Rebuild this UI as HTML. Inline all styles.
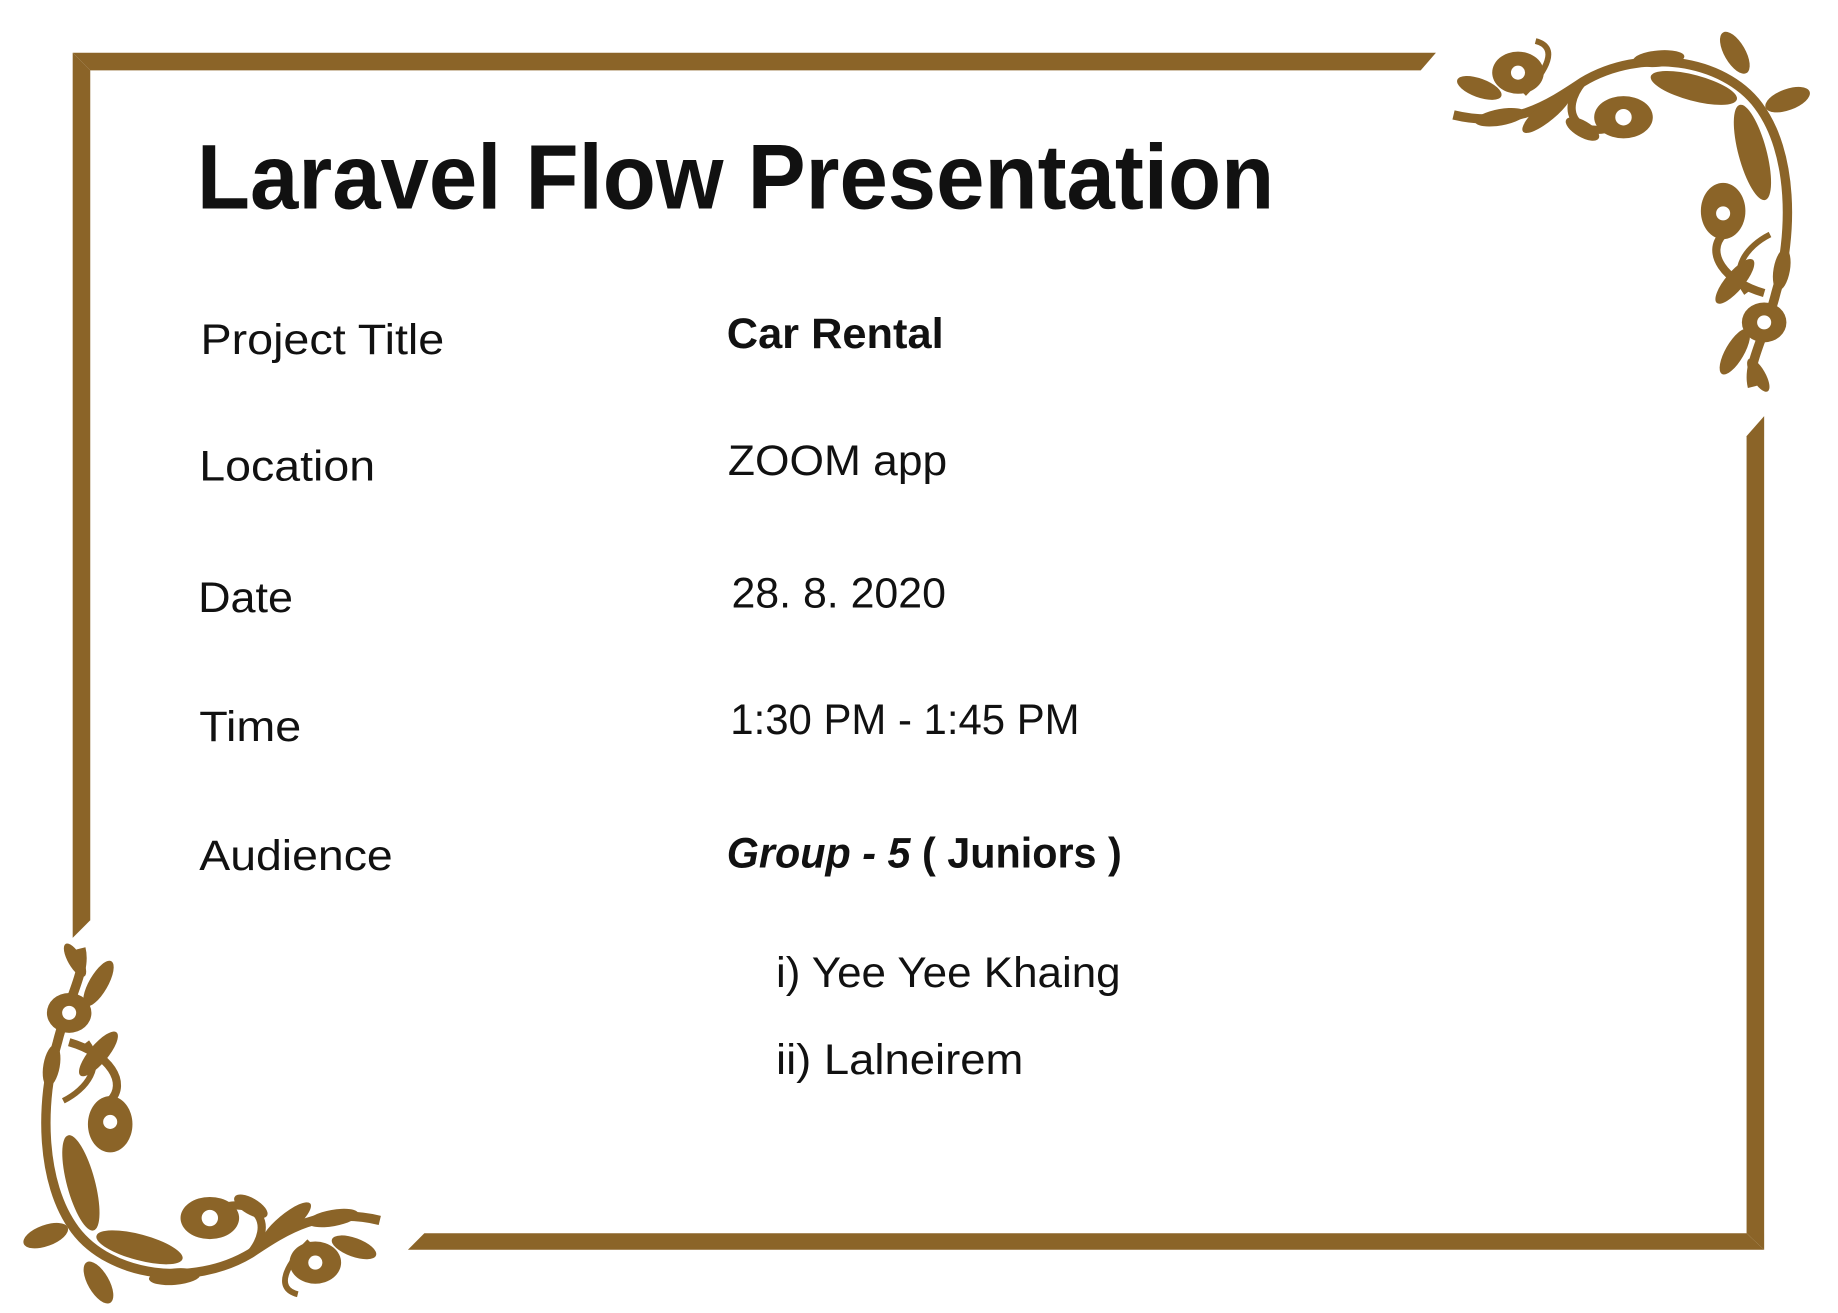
<!DOCTYPE html>
<html><head><meta charset="utf-8">
<style>
html,body{margin:0;padding:0;background:#fff;}
svg{display:block;}
text{font-family:"Liberation Sans",sans-serif;fill:#111;}
</style></head>
<body>
<svg width="1838" height="1313" viewBox="0 0 1568 1120" preserveAspectRatio="none">
  <rect x="0" y="0" width="1568" height="1120" fill="#fff"/>
  <g fill="#8b6428">
    <polygon points="62,45 1225,45 1212,60 77,60"/>
    <polygon points="62,45 77,60 77,785 62,800"/>
    <polygon points="1505,355 1505,1066 1490,1052 1490,372"/>
    <polygon points="362,1052 1490,1052 1505,1066 348,1066"/>
  </g>
  <g id="orn" fill="#8b6428" stroke="#8b6428">
    <path d="M1240,98 C1290,110 1320,90 1350,70 C1400,40 1470,50 1500,90 C1530,130 1530,200 1515,250 C1505,290 1490,310 1495,330" fill="none" stroke-width="8"/>
    <path d="M1350,70 C1330,95 1345,115 1370,110" fill="none" stroke-width="7"/>
    <path d="M1505,250 C1470,240 1455,215 1470,200" fill="none" stroke-width="7"/>
    <path d="M1300,80 C1320,60 1330,40 1310,35" fill="none" stroke-width="5"/>
    <path d="M1510,200 C1490,210 1475,230 1490,250" fill="none" stroke-width="5"/>
    <g stroke="none">
      <ellipse cx="1295" cy="62" rx="22" ry="18"/>
      <ellipse cx="1385" cy="100" rx="25" ry="18"/>
      <ellipse cx="1470" cy="180" rx="19" ry="24"/>
      <ellipse cx="1505" cy="275" rx="19" ry="17"/>
      <ellipse cx="1445" cy="75" rx="38" ry="11" transform="rotate(15 1445 75)"/>
      <ellipse cx="1495" cy="130" rx="42" ry="12" transform="rotate(75 1495 130)"/>
      <ellipse cx="1480" cy="45" rx="20" ry="9" transform="rotate(60 1480 45)"/>
      <ellipse cx="1525" cy="85" rx="20" ry="9" transform="rotate(-20 1525 85)"/>
      <ellipse cx="1262" cy="75" rx="20" ry="8" transform="rotate(20 1262 75)"/>
      <ellipse cx="1320" cy="95" rx="27" ry="8" transform="rotate(-40 1320 95)"/>
      <ellipse cx="1480" cy="240" rx="24" ry="8" transform="rotate(-50 1480 240)"/>
      <ellipse cx="1480" cy="300" rx="22" ry="8" transform="rotate(-60 1480 300)"/>
      <ellipse cx="1280" cy="100" rx="22" ry="7" transform="rotate(-10 1280 100)"/>
      <ellipse cx="1415" cy="50" rx="22" ry="7" transform="rotate(-5 1415 50)"/>
      <ellipse cx="1520" cy="230" rx="18" ry="7" transform="rotate(100 1520 230)"/>
      <ellipse cx="1350" cy="110" rx="16" ry="7" transform="rotate(30 1350 110)"/>
      <ellipse cx="1500" cy="320" rx="16" ry="6" transform="rotate(60 1500 320)"/>
    </g>
    <g fill="#fff" stroke="none">
      <circle cx="1295" cy="62" r="6"/><circle cx="1385" cy="100" r="7"/>
      <circle cx="1470" cy="182" r="6"/><circle cx="1505" cy="275" r="6"/>
    </g>
  </g>
  <g transform="rotate(180 782 569.5)">
    <use href="#orn"/>
  </g>
  <text x="168" y="178" font-size="78" font-weight="bold" textLength="919" lengthAdjust="spacingAndGlyphs">Laravel Flow Presentation</text>
  <g font-size="36">
    <text x="171" y="302" textLength="208" lengthAdjust="spacingAndGlyphs">Project Title</text>
    <text x="170" y="410" textLength="150" lengthAdjust="spacingAndGlyphs">Location</text>
    <text x="169" y="522" textLength="81" lengthAdjust="spacingAndGlyphs">Date</text>
    <text x="170" y="632" textLength="87" lengthAdjust="spacingAndGlyphs">Time</text>
    <text x="170" y="742" textLength="165" lengthAdjust="spacingAndGlyphs">Audience</text>
  </g>
  <g font-size="36">
    <text x="620" y="297" font-weight="bold" textLength="185" lengthAdjust="spacingAndGlyphs">Car Rental</text>
    <text x="621" y="405" textLength="187" lengthAdjust="spacingAndGlyphs">ZOOM app</text>
    <text x="624" y="518" textLength="183" lengthAdjust="spacingAndGlyphs">28. 8. 2020</text>
    <text x="623" y="626" textLength="298" lengthAdjust="spacingAndGlyphs">1:30 PM - 1:45 PM</text>
    <text x="620" y="740" font-weight="bold" textLength="337" lengthAdjust="spacingAndGlyphs"><tspan font-style="italic">Group - 5</tspan> ( Juniors )</text>
    <text x="662" y="842" textLength="294" lengthAdjust="spacingAndGlyphs">i) Yee Yee Khaing</text>
    <text x="662" y="916" textLength="211" lengthAdjust="spacingAndGlyphs">ii) Lalneirem</text>
  </g>
</svg>
</body></html>
